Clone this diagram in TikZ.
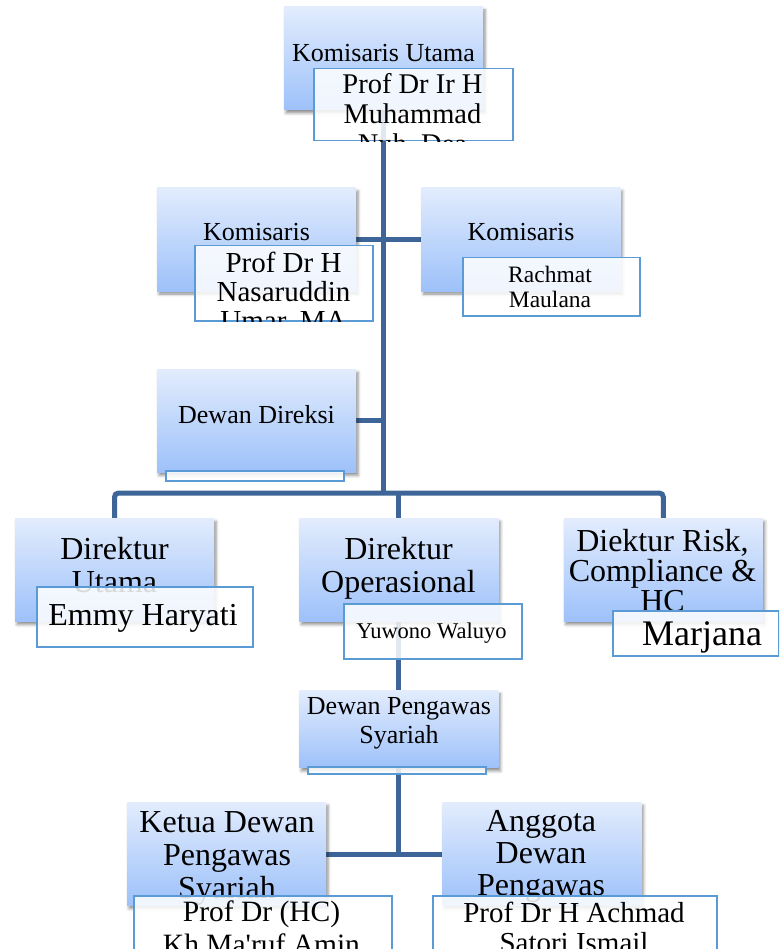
\documentclass[tikz,border=0pt]{standalone}
\usepackage{fontspec}
\setmainfont{Liberation Serif}
\usetikzlibrary{positioning, backgrounds, shadows.blur}

\definecolor{boxtop}{RGB}{226,236,253}
\definecolor{boxbottom}{RGB}{157,193,250}
\definecolor{rimblue}{RGB}{91,155,213}
\definecolor{linkblue}{RGB}{62,101,152}

\begin{document}
\begin{tikzpicture}[
        x=1pt, y=-1pt,
        titlebox/.style={rectangle, top color=boxtop, bottom color=boxbottom, minimum width=199pt, minimum height=103pt, inner sep=0pt, blur shadow={shadow xshift=2pt, shadow yshift=-3pt, shadow blur radius=3pt, shadow opacity=45}},
        namebox/.style={rectangle, draw=rimblue, line width=1.5pt, fill=white, fill opacity=0.85, anchor=north west, inner sep=0pt},
        ttl/.style={font=\fontsize{26}{29}\selectfont, align=center, inner sep=0pt},
        ttlbig/.style={font=\fontsize{32}{33}\selectfont, align=center, inner sep=0pt},
        who/.style={align=center, inner sep=0pt},
        link/.style={draw=linkblue, line width=5pt}
    ]
    \useasboundingbox (0,0) rectangle (779,949);
    \clip (0,0) rectangle (779,949);

    \node[titlebox] (kutama) at (383.5,58.5) {};
    \node[titlebox] (kom1) at (256.5,239.5) {};
    \node[titlebox, right=65pt of kom1] (kom2) {};
    \node[titlebox, below=78pt of kom1] (direksi) {};
    \node[titlebox] (dutama) at (114.5,570) {};
    \node[titlebox, right=85pt of dutama] (dops) {};
    \node[titlebox, right=65pt of dops] (drisk) {};
    \node[titlebox, minimum height=77pt, below=69pt of dops] (dps) {};
    \node[titlebox] (ketua) at (226.5,854) {};
    \node[titlebox, right=116pt of ketua] (anggota) {};

    \node[ttl] (kutamat) at (383.5,53) {Komisaris Utama};
    \node[ttl] (kom1t) at (256.5,232) {Komisaris};
    \node[ttl] (kom2t) at (521,232) {Komisaris};
    \node[ttl] (direksit) at (256.5,415) {Dewan Direksi};
    \node[ttlbig] (dutamat) at (114.5,565) {Direktur\\Utama};
    \node[ttlbig] (dopst) at (398.5,568) {Direktur\\Operasional};
    \node[ttlbig, font=\fontsize{32}{30}\selectfont] (driskt) at (662.5,571) {Diektur Risk,\\Compliance \&\\HC};
    \node[ttl] (dpst) at (399,723) {Dewan Pengawas\\Syariah};
    \node[ttlbig] (ketuat) at (227,858) {Ketua Dewan\\Pengawas\\Syariah};
    \begin{scope}
        \clip (anggota.north west) rectangle (anggota.south east);
        \node[ttlbig, font=\fontsize{32}{32}\selectfont] (anggotat) at (541,872) {Anggota\\Dewan\\Pengawas\\Syariah};
    \end{scope}

    \node[namebox, minimum width=199pt, minimum height=72pt] (nkutama) at (313,68) {};
    \node[namebox, minimum width=178pt, minimum height=75pt] (nkom1) at (194,245) {};
    \node[namebox, minimum width=177pt, minimum height=58pt] (nkom2) at (462,257) {};
    \node[namebox, minimum width=178pt, minimum height=10pt] (ndireksi) at (165,470) {};
    \node[namebox, minimum width=216pt, minimum height=60pt] (ndutama) at (36,586) {};
    \node[namebox, minimum width=178pt, minimum height=55pt] (ndops) at (343,603) {};
    \node[namebox, minimum width=166pt, minimum height=45pt] (ndrisk) at (612,610) {};
    \node[namebox, minimum width=178pt, minimum height=7pt] (ndps) at (307,766) {};
    \node[namebox, minimum width=258pt, minimum height=75pt] (nketua) at (133,895) {};
    \node[namebox, minimum width=284pt, minimum height=75pt] (nanggota) at (432,895) {};

    \begin{scope}
        \clip (nkutama.north west) rectangle (nkutama.south east);
        \node[who, font=\fontsize{28.5}{30}\selectfont] (nkutamat) at (412.5,116) {Prof Dr Ir H\\Muhammad\\Nuh, Dea};
    \end{scope}
    \begin{scope}
        \clip (nkom1.north west) rectangle (nkom1.south east);
        \node[who, font=\fontsize{29}{29}\selectfont] (nkom1t) at (283.5,294) {Prof Dr H\\Nasaruddin\\Umar, MA};
    \end{scope}
    \node[who, font=\fontsize{23.5}{25}\selectfont] (nkom2t) at (550,287) {Rachmat\\Maulana};
    \node[who, font=\fontsize{32}{33}\selectfont] (ndutamat) at (143,618) {Emmy Haryati};
    \node[who, font=\fontsize{22.5}{25}\selectfont] (ndopst) at (431.5,633) {Yuwono Waluyo};
    \node[who, font=\fontsize{36}{38}\selectfont] (ndriskt) at (702,637) {Marjana};
    \node[who, font=\fontsize{29.5}{33}\selectfont] (nketuat) at (261.5,928) {Prof Dr (HC)\\Kh Ma\textquotesingle ruf Amin};
    \node[who, font=\fontsize{29}{30}\selectfont] (nanggotat) at (574,927) {Prof Dr H Achmad\\Satori Ismail};

    \begin{scope}[on background layer]
        \coordinate (bus) at (383.5,493);
        \draw[link] (kutama) -- (kutama |- bus);
        \draw[link] (kom1) -- (kom2);
        \draw[link] (direksi) -- (direksi -| kutama);
        \draw[link, rounded corners=4pt] (dutama) |- (bus) -| (drisk);
        \draw[link] (dops) -- (dops |- bus);
        \draw[link] (dops) -- (dps);
        \draw[link] (dps) -- (dps |- ketua);
        \draw[link] (ketua) -- (anggota);
    \end{scope}
\end{tikzpicture}
\end{document}
